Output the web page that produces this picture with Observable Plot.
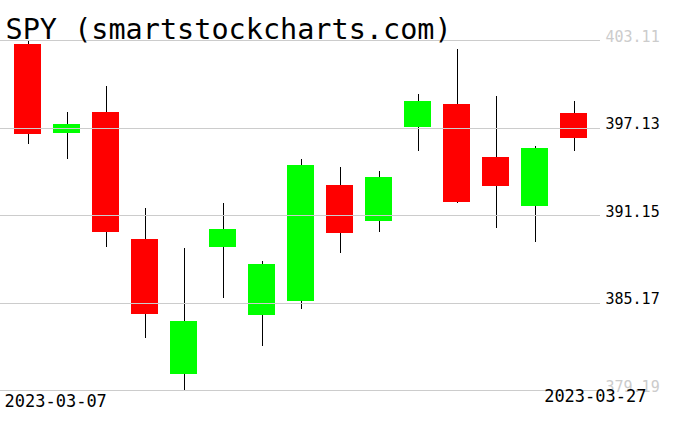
<!DOCTYPE html>
<html>
<head>
<meta charset="utf-8">
<script src="https://cdn.jsdelivr.net/npm/d3@7"></script>
<script src="https://cdn.jsdelivr.net/npm/@observablehq/plot@0.6"></script>
<style>
  html, body { margin: 0; padding: 0; background: #fff; }
  #chart svg { display: block; }
</style>
</head>
<body>
<div id="chart"></div>
<script>
const title = "SPY (smartstockcharts.com)";
const dates = ["2023-03-07","2023-03-08","2023-03-09","2023-03-10","2023-03-13","2023-03-14","2023-03-15","2023-03-16","2023-03-17","2023-03-20","2023-03-21","2023-03-22","2023-03-23","2023-03-24","2023-03-27"];
const open  = [402.84, 396.77, 398.19, 389.51, 380.30, 388.98, 384.34, 385.29, 393.20, 390.76, 397.18, 398.74, 395.13, 391.79, 398.12];
const high  = [403.04, 398.19, 399.97, 391.63, 388.89, 391.99, 388.01, 394.98, 394.45, 394.16, 399.42, 402.49, 399.28, 395.89, 398.94];
const low   = [396.02, 395.00, 388.98, 382.76, 379.19, 385.50, 382.22, 384.75, 388.53, 390.01, 395.54, 392.00, 390.28, 389.33, 395.54];
const close = [396.71, 397.37, 390.01, 384.40, 383.91, 390.19, 387.82, 394.57, 389.94, 393.75, 398.94, 392.06, 393.15, 395.75, 396.43];
const yTicks = [379.19, 385.17, 391.15, 397.13, 403.11];

const rows = dates.map((d, i) => ({date: d, open: open[i], high: high[i], low: low[i], close: close[i]}));
const edgeTicks = [yTicks[0], yTicks[yTicks.length - 1]];

const chart = Plot.plot({
  width: 676,
  height: 431,
  marginLeft: 0,
  marginRight: 76,
  marginTop: 40,
  marginBottom: 41,
  style: {fontFamily: "DejaVu Sans Mono", background: "#fff"},
  x: {type: "band", domain: dates, paddingInner: 0.31, paddingOuter: 0.32, axis: null},
  y: {domain: [yTicks[0], yTicks[yTicks.length - 1]], axis: null},
  marks: [
    Plot.ruleX(rows, {x: "date", y1: "low", y2: "high", stroke: "black", strokeWidth: 1, shapeRendering: "crispEdges"}),
    Plot.barY(rows, {x: "date", y1: "open", y2: "close", fill: d => d.close >= d.open ? "#00ff00" : "#ff0000", shapeRendering: "crispEdges"}),
    Plot.ruleY(yTicks, {y: d => d, stroke: "#cccccc", strokeWidth: 1, shapeRendering: "crispEdges"}),
    Plot.text(yTicks, {
      y: d => d, text: d => d.toFixed(2), frameAnchor: "right", textAnchor: "start",
      lineAnchor: "bottom", dx: 5, dy: 1, fontSize: 15,
      fill: d => edgeTicks.includes(d) ? "#cccccc" : "black"
    }),
    Plot.text([dates[0]], {text: d => d, frameAnchor: "bottom-left", textAnchor: "start", lineAnchor: "bottom", dx: 4, dy: 16, fontSize: 17, fill: "black"}),
    Plot.text([dates[dates.length - 1]], {text: d => d, frameAnchor: "bottom-right", textAnchor: "end", lineAnchor: "bottom", dx: 46, dy: 11, fontSize: 17, fill: "black"}),
    Plot.text([title], {text: d => d, frameAnchor: "top-left", textAnchor: "start", lineAnchor: "bottom", dx: 5, dy: -2, fontSize: 28.5, fill: "black"})
  ]
});
document.getElementById("chart").appendChild(chart);
</script>
</body>
</html>
